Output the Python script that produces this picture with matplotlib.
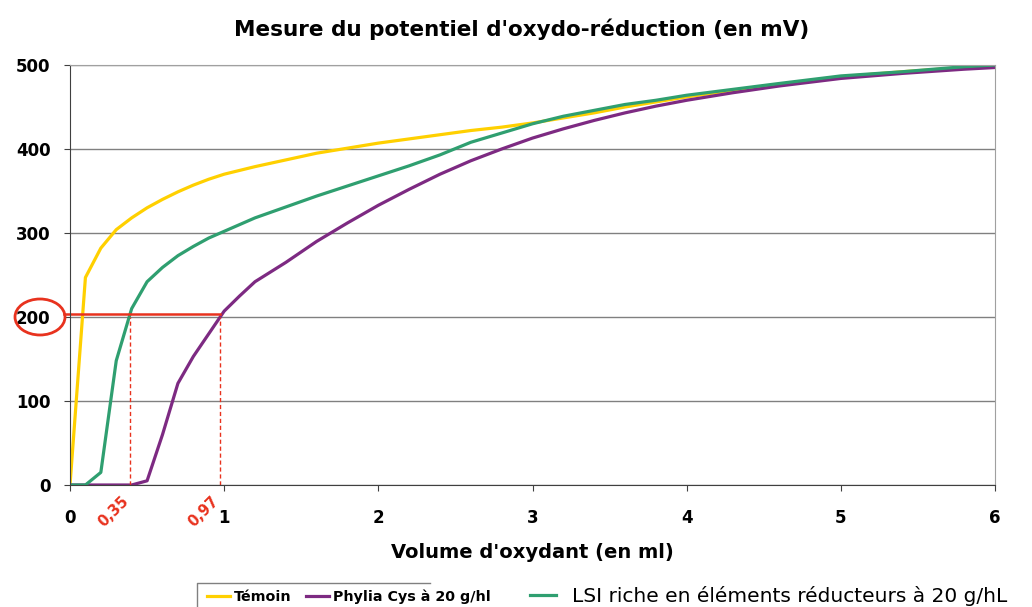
import matplotlib.pyplot as plt
from matplotlib.lines import Line2D
from matplotlib.patches import Ellipse

# Données
x_temoin = [0, 0.1, 0.2, 0.3, 0.4, 0.5, 0.6, 0.7, 0.8, 0.9, 1.0, 1.2, 1.4, 1.6, 1.8, 2.0,
            2.2, 2.4, 2.6, 2.8, 3.0, 3.2, 3.4, 3.6, 3.8, 4.0, 4.3, 4.6, 5.0, 5.4, 5.8, 6.0]
y_temoin = [0, 247, 282, 304, 318, 330, 340, 349, 357, 364, 370, 379, 387, 395, 401, 407,
            412, 417, 422, 426, 431, 437, 443, 450, 456, 462, 470, 477, 486, 492, 497, 500]

x_phylia = [0, 0.3, 0.4, 0.5, 0.6, 0.7, 0.8, 0.9, 1.0, 1.1, 1.2, 1.4, 1.6, 1.8, 2.0, 2.2,
            2.4, 2.6, 2.8, 3.0, 3.2, 3.4, 3.6, 3.8, 4.0, 4.3, 4.6, 5.0, 5.4, 5.8, 6.0]
y_phylia = [0, 0, 0, 5, 60, 121, 153, 180, 207, 225, 242, 265, 290, 312, 333, 352,
            370, 386, 400, 413, 424, 434, 443, 451, 458, 467, 475, 484, 490, 495, 497]

x_lsi = [0, 0.1, 0.2, 0.3, 0.4, 0.5, 0.6, 0.7, 0.8, 0.9, 1.0, 1.2, 1.4, 1.6, 1.8, 2.0,
         2.2, 2.4, 2.6, 2.8, 3.0, 3.2, 3.4, 3.6, 3.8, 4.0, 4.3, 4.6, 5.0, 5.4, 5.8, 6.0]
y_lsi = [0, 0, 15, 148, 210, 242, 259, 273, 284, 294, 302, 318, 331, 344, 356, 368,
         380, 393, 408, 419, 430, 439, 446, 453, 458, 464, 471, 478, 487, 492, 498, 500]

noms = ['Témoin', 'Phylia Cys à 20 g/hl', 'LSI riche en éléments réducteurs à 20 g/hL']
couleurs = ['#FFD000', '#7D2A82', '#2F9F70']

seuil = 200
x_seuil = [0.39, 0.97]
labels_seuil = ['0,35', '0,97']

fig = plt.figure(figsize=(10.32, 6.07), dpi=100)
ax = fig.add_axes([70/1032, 1-485/607, 925/1032, 420/607])

l1, = ax.plot(x_temoin, y_temoin, color=couleurs[0], lw=2.3, label=noms[0])
l2, = ax.plot(x_phylia, y_phylia, color=couleurs[1], lw=2.3, label=noms[1])
l3, = ax.plot(x_lsi, y_lsi, color=couleurs[2], lw=2.3, label=noms[2])

ax.set_xlim(0, 6)
ax.set_ylim(0, 500)
ax.set_xticks(range(7))
ax.set_yticks(range(0, 501, 100))
ax.grid(axis='y', color='#808080', lw=1)
ax.set_axisbelow(True)
for s in ['top', 'right']:
    ax.spines[s].set_color('#a0a0a0')
for s in ['left', 'bottom']:
    ax.spines[s].set_color('#404040')
ax.tick_params(length=4, color='#404040', labelsize=12)
ax.tick_params(axis='x', pad=13)
ax.tick_params(axis='y', pad=10)
for t in ax.get_xticklabels() + ax.get_yticklabels():
    t.set_fontweight('bold')

fig.text(0.505, 1-29/607, "Mesure du potentiel d'oxydo-réduction (en mV)", fontsize=15.5,
         fontweight='bold', ha='center', va='center')
ax.set_xlabel("Volume d'oxydant (en ml)", fontsize=14, fontweight='bold', labelpad=12)

# annotations en rouge
ax.plot([-0.04, x_seuil[1]], [203, 203], color='#E8321E', lw=1.8, clip_on=False)
for xs, lab in zip(x_seuil, labels_seuil):
    ax.plot([xs, xs], [0, seuil], color='#E8321E', lw=1, ls=(0, (3, 2)))
    ax.text(xs + 0.01, -10, lab, color='#E8321E', fontsize=10.5, fontweight='bold',
            rotation=45, ha='right', va='top')
fig.patches.append(Ellipse((40/1032, 1-317/607), 50/1032, 36/607,
                           transform=fig.transFigure, fill=False,
                           edgecolor='#E8321E', lw=2))

# légende (le troisième libellé déborde du cadre)
leg = fig.legend([l1, l2], noms[:2], loc='center left',
                 bbox_to_anchor=(201/1032, 1-597/607), ncol=2,
                 frameon=False, handlelength=1.6, handletextpad=0.3,
                 columnspacing=1.0, borderaxespad=0, prop={'weight': 'bold', 'size': 10.3})
leg2 = fig.legend([l3], noms[2:], loc='center left',
                  bbox_to_anchor=(522/1032, 1-596/607), frameon=False,
                  handlelength=1.3, handletextpad=0.8, borderaxespad=0,
                  prop={'size': 14.5})
fig.add_artist(Line2D([197/1032, 197/1032, 430/1032], [0, 1-583/607, 1-583/607],
                      transform=fig.transFigure, color='#808080', lw=1))

fig.savefig('out.png', dpi=100)
